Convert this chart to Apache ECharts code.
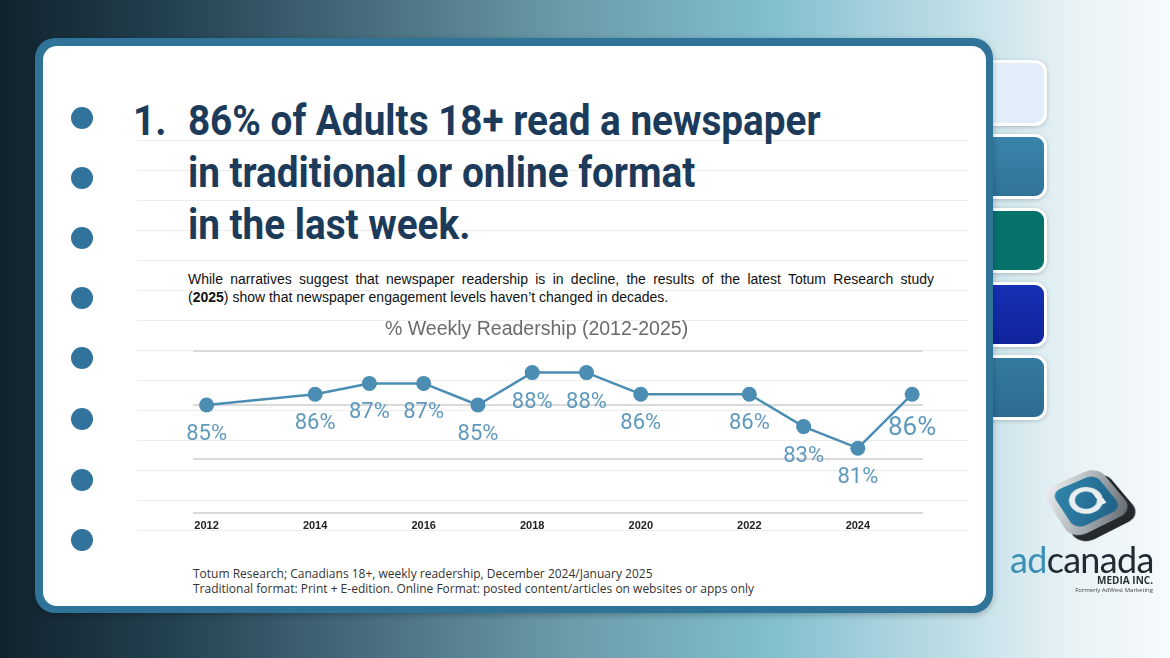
<!DOCTYPE html>
<html>
<head>
<meta charset="utf-8">
<script src="https://cdn.jsdelivr.net/npm/echarts@6/dist/echarts.min.js"></script>
<style>
  html, body { margin:0; padding:0; }
  body { width:1170px; height:658px; overflow:hidden; position:relative;
    background: linear-gradient(90deg, #10222d 0%, #23404f 14%, #45697a 30%, #6a9aa8 48%, #82bfcf 66%, #b9dbe4 80%, #e9f3f6 92%, #f7fafb 100%); }
  .abs { position:absolute; }
  .card { left:35px; top:38px; width:958px; height:575px; border-radius:20px; background:#2f7399; z-index:2; box-shadow: 0 2px 6px rgba(0,0,0,0.25); }
  .inner { left:43px; top:46px; width:943px; height:560px; border-radius:14px; background:#ffffff; z-index:3; }
  .lines { left:137px; top:111px; width:831px; height:421px; z-index:4;
    background: repeating-linear-gradient(to bottom, transparent 0px, transparent 29px, #ededed 29px, #ededed 30px); }
  .dot { width:22px; height:22px; border-radius:50%; background:#32739d; z-index:5; left:71px; }
  .tab { left:950px; width:91px; border:3px solid #ffffff; border-radius:12px; z-index:1; box-shadow: 0 1px 4px rgba(0,0,0,0.2); }
  .title { left:133px; top:94px; z-index:6; font-family: Roboto, sans-serif; font-weight:700; color:#1c3b5a; font-size:43px; line-height:52px; white-space:nowrap; transform: scaleX(0.9); transform-origin: left top; }
  .title .num { display:inline-block; width:61px; }
  .para { left:188px; top:270px; width:746px; z-index:6; font-family: "Liberation Sans", Arial, sans-serif; font-size:14px; line-height:18px; color:#111; }
  .para .l1 { text-align:justify; text-align-last:justify; white-space:nowrap; }
  .foot { left:193px; top:566px; z-index:6; font-family: "Open Sans", sans-serif; font-size:12px; line-height:15px; color:#333; white-space:nowrap; }
  #chart { left:0; top:0; width:1170px; height:658px; z-index:7; }
  .logo { z-index:3; }
</style>
</head>
<body>
<div class="abs tab" style="top:60px;height:60px;background:#e1eef9;"></div>
<div class="abs tab" style="top:134px;height:59px;background:linear-gradient(#3a84aa,#2f7398);"></div>
<div class="abs tab" style="top:208px;height:59px;background:#07716b;"></div>
<div class="abs tab" style="top:282px;height:59px;background:linear-gradient(#1530b4,#10249a);"></div>
<div class="abs tab" style="top:355px;height:59px;background:linear-gradient(#347b9f,#2c6c90);"></div>

<div class="abs card"></div>
<div class="abs inner"></div>
<div class="abs lines"></div>

<div class="abs dot" style="top:107px"></div>
<div class="abs dot" style="top:167px"></div>
<div class="abs dot" style="top:227px"></div>
<div class="abs dot" style="top:287px"></div>
<div class="abs dot" style="top:347px"></div>
<div class="abs dot" style="top:408px"></div>
<div class="abs dot" style="top:469px"></div>
<div class="abs dot" style="top:529px"></div>

<div class="abs title"><span class="num">1.</span>86% of Adults 18+ read a newspaper<br><span class="num"></span>in traditional or online format<br><span class="num"></span>in the last week.</div>

<div class="abs para"><div class="l1">While narratives suggest that newspaper readership is in decline, the results of the latest Totum Research study</div><div>(<b>2025</b>) show that newspaper engagement levels haven’t changed in decades.</div></div>

<div class="abs foot">Totum Research; Canadians 18+, weekly readership, December 2024/January 2025<br>Traditional format: Print + E-edition. Online Format: posted content/articles on websites or apps only</div>

<!-- logo -->
<div class="abs logo" style="left:1034px;top:456px;width:104px;height:92px;">
  <div class="abs" style="left:18px;top:10px;width:68px;height:68px;transform:perspective(300px) rotateX(38deg) rotateZ(-30deg);">
    <div class="abs" style="left:3px;top:9px;width:68px;height:68px;border-radius:15px;background:#25292d;"></div>
    <div class="abs" style="left:0;top:0;width:68px;height:68px;border-radius:15px;background:linear-gradient(135deg,#f4f6f7,#a7aeb3 55%,#5b6369);"></div>
    <div class="abs" style="left:8px;top:8px;width:52px;height:52px;border-radius:11px;background:linear-gradient(135deg,#3286ad,#1f6185);"></div>
    <div class="abs" style="left:17px;top:17px;width:22px;height:22px;border-radius:50%;border:6px solid #e9eef0;"></div>
    <div class="abs" style="left:44px;top:30px;width:6px;height:17px;background:#e9eef0;"></div>
  </div>
</div>
<div class="abs logo" style="left:1010px;top:541px;font-family:Lato, sans-serif;font-size:36px;line-height:36px;letter-spacing:-0.7px;color:#222b33;"><span style="color:#3b8fb2">ad</span>canada</div>
<div class="abs logo" style="left:1060px;top:575px;width:93px;text-align:right;font-family:'Open Sans',sans-serif;font-weight:700;font-size:10px;line-height:11px;color:#2a3238;">MEDIA INC.</div>
<div class="abs logo" style="left:1030px;top:587px;width:123px;text-align:right;font-family:'Open Sans',sans-serif;font-size:6px;line-height:7px;color:#444;">Formerly AdWest Marketing</div>

<div id="chart" class="abs"></div>

<script>
const years = [2012, 2014, 2015, 2016, 2017, 2018, 2019, 2020, 2022, 2023, 2024, 2025];
const readership = [85, 86, 87, 87, 85, 88, 88, 86, 86, 83, 81, 86];
const xTickLabels = [2012, 2014, 2016, 2018, 2020, 2022, 2024];
const chartTitle = '% Weekly Readership (2012-2025)';

const chart = echarts.init(document.getElementById('chart'), null, { renderer: 'canvas' });
const lastIdx = years.length - 1;
const seriesData = years.map((y, i) => {
  const d = { value: [y, readership[i]] };
  if (i === lastIdx) {
    d.label = { fontSize: 26, distance: 14 };
  }
  return d;
});

chart.setOption({
  backgroundColor: 'transparent',
  animation: false,
  title: {
    text: chartTitle,
    left: 380, top: 315,
    textStyle: { fontFamily: 'Liberation Sans', fontSize: 19.5, fontWeight: 'normal', color: '#6b6b6b' }
  },
  grid: { left: 193, right: 247, top: 351, bottom: 145, containLabel: false },
  xAxis: {
    type: 'value', min: 2011.75, max: 2025.2,
    axisLine: { show: false }, axisTick: { show: false }, splitLine: { show: false },
    axisLabel: {
      customValues: xTickLabels,
      margin: 7,
      fontFamily: 'Liberation Sans', fontWeight: 'bold', fontSize: 11, color: '#222',
      formatter: v => String(v)
    }
  },
  yAxis: {
    type: 'value', min: 75, max: 90, interval: 5,
    axisLine: { show: false }, axisTick: { show: false }, axisLabel: { show: false },
    splitLine: { lineStyle: { color: '#dadada', width: 2 } }
  },
  series: [{
    type: 'line',
    data: seriesData,
    symbol: 'circle', symbolSize: 15,
    itemStyle: { color: '#4b8db3' },
    lineStyle: { color: '#4b8db3', width: 2.5 },
    label: {
      show: true, position: 'bottom', distance: 11,
      fontFamily: 'Roboto', fontSize: 22, color: '#5f99bd',
      formatter: p => p.value[1] + '%'
    }
  }]
});
</script>
</body>
</html>
